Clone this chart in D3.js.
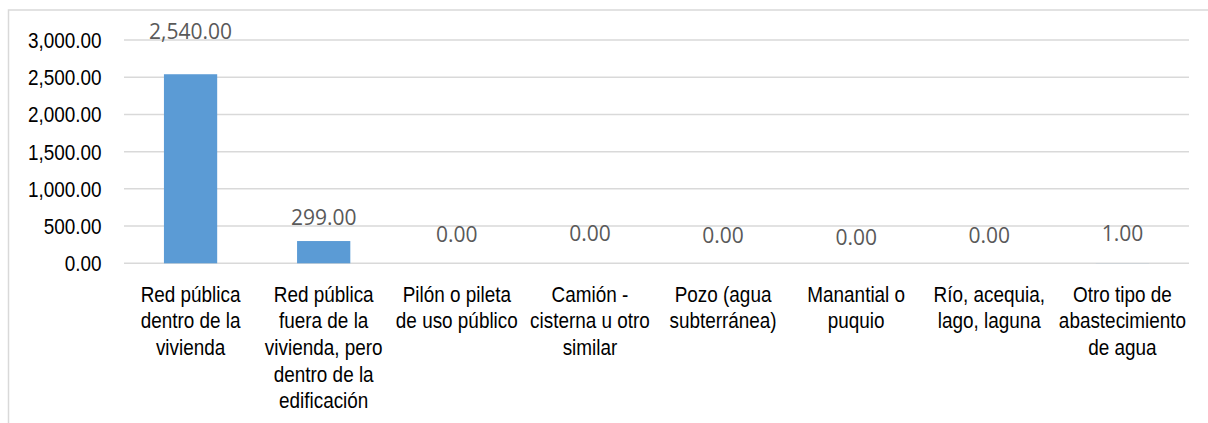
<!DOCTYPE html>
<html>
<head>
<meta charset="utf-8">
<script src="https://cdn.jsdelivr.net/npm/d3@7"></script>
<style>
  html, body { margin: 0; padding: 0; background: #fff; }
  svg { display: block; }
</style>
</head>
<body>
<svg id="chart" width="1208" height="423"></svg>
<script>
// ---- data ----
const categories = [
  "Red pública\ndentro de la\nvivienda",
  "Red pública\nfuera de la\nvivienda, pero\ndentro de la\nedificación",
  "Pilón o pileta\nde uso público",
  "Camión -\ncisterna u otro\nsimilar",
  "Pozo (agua\nsubterránea)",
  "Manantial o\npuquio",
  "Río, acequia,\nlago, laguna",
  "Otro tipo de\nabastecimiento\nde agua"
];
const values = [2540, 299, 0, 0, 0, 0, 0, 1];
const yTicks = [0, 500, 1000, 1500, 2000, 2500, 3000];

// ---- layout ----
const W = 1208, H = 423;
const plot = { left: 124, right: 1189, top: 40, bottom: 263.3 };
const sx = 0.86; // horizontal squeeze of axis text
const labelLift = [35, 16, 21.5, 22, 20, 18, 20, 22];

const svg = d3.select("#chart");

// outer border
svg.append("rect")
  .attr("x", 8.5).attr("y", 10)
  .attr("width", 1400).attr("height", 600)
  .attr("fill", "none").attr("stroke", "#d9d9d9").attr("stroke-width", 1.5);

const x = d3.scaleBand().domain(d3.range(categories.length))
  .range([plot.left, plot.right]).padding(0);
const y = d3.scaleLinear().domain([0, 3000]).range([plot.bottom, plot.top]);
const fmt = d3.format(",.2f");

// gridlines
svg.append("g").selectAll("line").data(yTicks).join("line")
  .attr("x1", plot.left).attr("x2", plot.right)
  .attr("y1", d => y(d)).attr("y2", d => y(d))
  .attr("stroke", "#d9d9d9").attr("stroke-width", 1.5);

// y tick labels
svg.append("g").selectAll("g").data(yTicks).join("g")
  .attr("transform", d => `translate(101.5,${y(d)})`)
  .append("text")
  .attr("transform", `scale(${sx},1)`)
  .attr("text-anchor", "end")
  .attr("dy", "0.36em")
  .attr("font-family", "'Liberation Sans', Arial, sans-serif")
  .attr("font-size", 22)
  .attr("fill", "#000")
  .text(d => fmt(d));

// bars
const barW = x.bandwidth() * 0.4;
svg.append("g").selectAll("rect").data(values).join("rect")
  .attr("x", (d, i) => x(i) + x.bandwidth() / 2 - barW / 2)
  .attr("y", d => y(d))
  .attr("width", barW)
  .attr("height", d => y(0) - y(d))
  .attr("fill", "#5b9bd5");

// data labels
svg.append("g").selectAll("text").data(values).join("text")
  .attr("x", (d, i) => x(i) + x.bandwidth() / 2)
  .attr("y", (d, i) => y(d) - labelLift[i])
  .attr("text-anchor", "middle")
  .attr("font-family", "'Open Sans', sans-serif")
  .attr("font-size", 21)
  .attr("fill", "#595959")
  .text(d => fmt(d));

// category labels
const cat = svg.append("g").selectAll("g").data(categories).join("g")
  .attr("transform", (d, i) => `translate(${x(i) + x.bandwidth() / 2},301.5)`);
cat.append("text")
  .attr("transform", `scale(${sx},1)`)
  .attr("text-anchor", "middle")
  .attr("font-family", "'Liberation Sans', Arial, sans-serif")
  .attr("font-size", 22)
  .attr("fill", "#000")
  .each(function(d) {
    const t = d3.select(this);
    d.split("\n").forEach((line, k) => {
      t.append("tspan").attr("x", 0).attr("y", k * 26.7).text(line);
    });
  });
</script>
</body>
</html>
